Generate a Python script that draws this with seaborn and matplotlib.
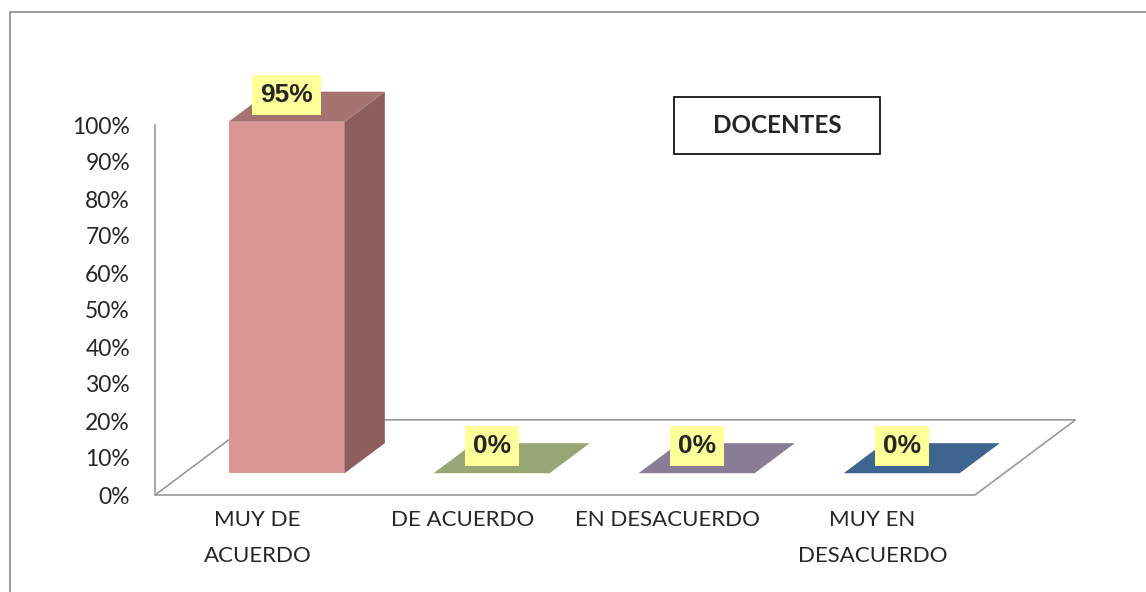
import matplotlib
matplotlib.use("Agg")
import matplotlib.pyplot as plt
from matplotlib.patches import Rectangle, Polygon
import seaborn as sns
import numpy as np
import pandas as pd

# datos del gráfico
categorias = ["MUY DE\nACUERDO", "DE ACUERDO", "EN DESACUERDO", "MUY EN\nDESACUERDO"]
porcentajes = [95, 0, 0, 0]
etiquetas = ["95%", "0%", "0%", "0%"]
color_frente = ["#D99694", "#A9B97F", "#A08FB2", "#4F7AAE"]
color_tapa = ["#A67371", "#98A675", "#8A7B97", "#3D6590"]
color_lado = ["#8C5F5E", "#7F8C60", "#6E6080", "#2F4F72"]
marcas_y = [0, 10, 20, 30, 40, 50, 60, 70, 80, 90, 100]
titulo = "DOCENTES"

# efecto 3D (profundidad del piso en unidades de datos)
FONDO_DX = 0.49
FONDO_DY = 20.3
F0, F1 = 0.29, 0.69
ANCHO = 0.566

sns.set_style("white")
plt.rcParams['font.family'] = ['Lato', 'DejaVu Sans']

W, H = 1146, 592
fig = plt.figure(figsize=(W / 100, H / 100), dpi=100)
ax = fig.add_axes([155 / W, (H - 495) / H, 820 / W, 370 / H])

n = len(categorias)
x0 = -0.5
x1 = n - 0.5

# piso
piso = Polygon([(x0, 0), (x1, 0), (x1 + FONDO_DX, FONDO_DY), (x0 + FONDO_DX, FONDO_DY)],
               closed=True, facecolor="white", edgecolor="#9A9A9A", lw=1.2,
               clip_on=False, zorder=1)
ax.add_patch(piso)

base = F0 * FONDO_DY
desp = F0 * FONDO_DX
dx = (F1 - F0) * FONDO_DX
dy = (F1 - F0) * FONDO_DY

df = pd.DataFrame({"pos": np.arange(n) + desp, "valor": porcentajes, "cat": categorias})
sns.barplot(data=df, x="pos", y="valor", hue="cat", palette=color_frente, saturation=1,
            native_scale=True, width=ANCHO, bottom=base, errorbar=None,
            legend=False, linewidth=0, clip_on=False, zorder=3, ax=ax)

for i, v in enumerate(porcentajes):
    xc = i + desp
    xl, xr = xc - ANCHO / 2, xc + ANCHO / 2
    if v > 0:
        ax.fill([xr, xr + dx, xr + dx, xr], [base, base + dy, base + dy + v, base + v],
                color=color_lado[i], lw=0, zorder=3, clip_on=False)
    ax.fill([xl, xr, xr + dx, xl + dx], [base + v, base + v, base + v + dy, base + v + dy],
            color=color_tapa[i], lw=0, zorder=3, clip_on=False)
    ax.text(xc, base + v + 7.3, etiquetas[i], ha="center", va="center", fontsize=19,
            fontweight="bold", fontfamily="Liberation Sans", zorder=5, clip_on=False,
            bbox=dict(boxstyle="square,pad=0.3", fc="#FFFF99", ec="none"))

ax.set_xlim(x0, x1)
ax.set_ylim(0, 100)
ax.set_yticks(marcas_y)
ax.set_yticklabels([f"{m}%" for m in marcas_y])
ax.set_xticks(range(n))
ax.set_xticklabels(categorias, linespacing=2.0)
ax.tick_params(axis="y", length=0, pad=18, labelsize=16.5)
ax.tick_params(axis="x", length=0, pad=11, labelsize=16)
ax.set_xlabel("")
ax.set_ylabel("")
for s in ["top", "right", "bottom"]:
    ax.spines[s].set_visible(False)
ax.spines["left"].set_color("#9A9A9A")
ax.spines["left"].set_linewidth(1.2)

# recuadro de título
fig.add_artist(Rectangle((674 / W, 1 - 154 / H), 206 / W, 57 / H, transform=fig.transFigure,
                         fill=False, ec="black", lw=1.2))
fig.text(777 / W, 1 - 125.5 / H, titulo, ha="center", va="center", fontsize=17.5, fontweight="bold")

# marco exterior
fig.add_artist(Rectangle((10 / W, -0.05), 1.1, 1 - 12 / H + 0.05, transform=fig.transFigure,
                         fill=False, ec="#8C8C8C", lw=1.2, clip_on=False))

fig.savefig("out.png", dpi=100)
